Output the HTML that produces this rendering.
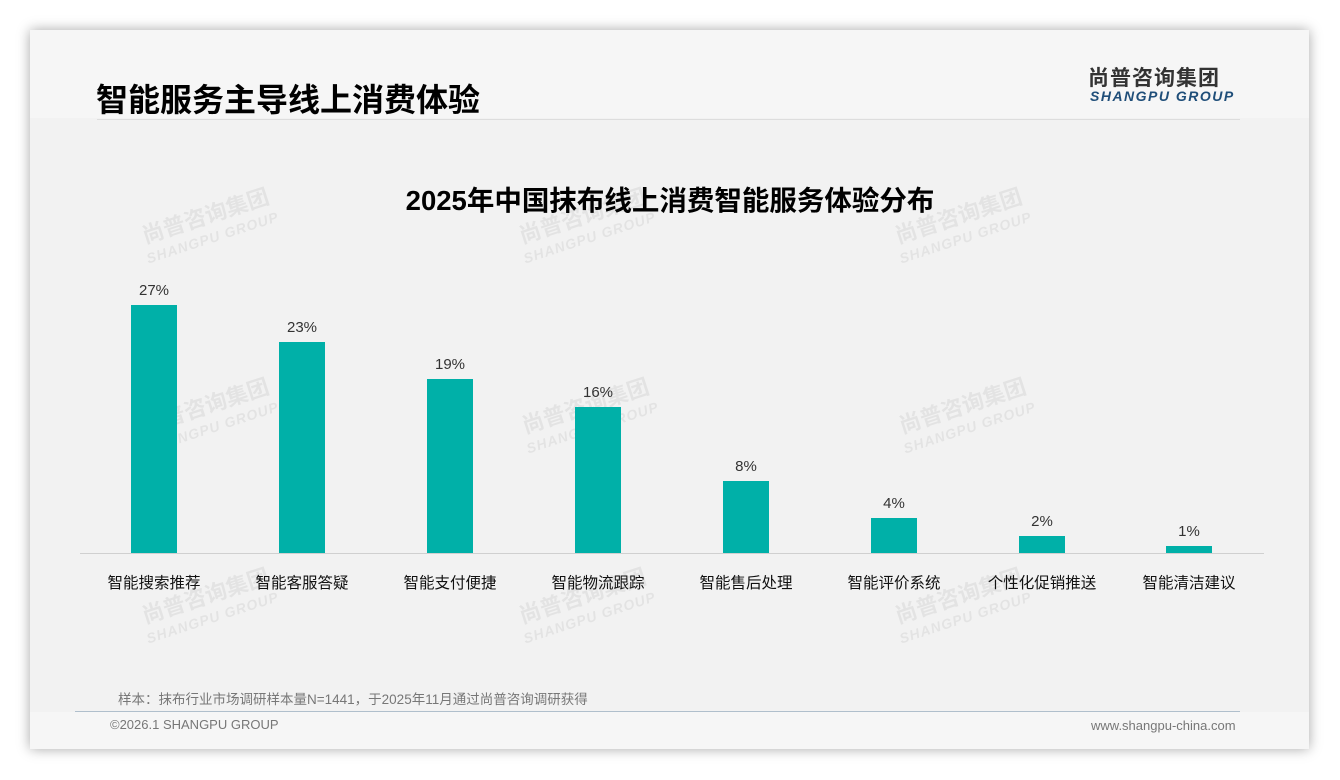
<!DOCTYPE html>
<html><head><meta charset="utf-8"><style>
body{margin:0;width:1340px;height:780px;background:#fff;position:relative;overflow:hidden;font-family:"Liberation Sans","Noto Sans CJK SC",sans-serif}
.card{position:absolute;left:30px;top:30px;width:1279px;height:719px;background:#f6f6f6;box-shadow:0 0 12px rgba(0,0,0,.35)}
.a{position:absolute}
.wm{position:absolute;color:rgba(0,0,0,.06);font-weight:bold;transform:rotate(-18deg);font-size:22px;line-height:22px;text-align:center}
.wm span{display:block;font-size:14px;font-style:italic;letter-spacing:1px}
.bar{position:absolute;width:46px;background:#00b0a8}
.v{position:absolute;width:80px;text-align:center;font-size:15px;color:#333}
.l{position:absolute;width:148px;text-align:center;font-size:15.5px;color:#111;top:571px}
</style></head><body>
<div class="card"></div>
<div class="a" style="left:30px;top:118px;width:1279px;height:594px;background:#f2f2f2"></div>
<div class="a" style="left:96px;top:75px;font-size:32px;font-weight:bold;color:#000">智能服务主导线上消费体验</div>
<div class="a" style="left:97px;top:119px;width:1143px;height:1px;background:#ddd"></div>
<div class="a" style="left:1088px;top:62px;font-size:21px;font-weight:bold;color:#333;letter-spacing:1px">尚普咨询集团</div>
<div class="a" style="left:1090px;top:88px;font-size:14px;font-weight:bold;font-style:italic;color:#1f4e79;letter-spacing:1.5px">SHANGPU GROUP</div>
<div class="a" style="left:0;width:1340px;top:178px;text-align:center;font-size:27.5px;font-weight:bold;color:#000">2025年中国抹布线上消费智能服务体验分布</div>
<div class="wm" style="left:140px;top:205px">尚普咨询集团<span>SHANGPU GROUP</span></div>
<div class="wm" style="left:517px;top:205px">尚普咨询集团<span>SHANGPU GROUP</span></div>
<div class="wm" style="left:893px;top:205px">尚普咨询集团<span>SHANGPU GROUP</span></div>
<div class="wm" style="left:140px;top:395px">尚普咨询集团<span>SHANGPU GROUP</span></div>
<div class="wm" style="left:520px;top:395px">尚普咨询集团<span>SHANGPU GROUP</span></div>
<div class="wm" style="left:897px;top:395px">尚普咨询集团<span>SHANGPU GROUP</span></div>
<div class="wm" style="left:140px;top:585px">尚普咨询集团<span>SHANGPU GROUP</span></div>
<div class="wm" style="left:517px;top:585px">尚普咨询集团<span>SHANGPU GROUP</span></div>
<div class="wm" style="left:893px;top:585px">尚普咨询集团<span>SHANGPU GROUP</span></div>
<div class="a" style="left:80px;top:553px;width:1184px;height:1px;background:#d0d0d0"></div>
<div class="bar" style="left:131px;top:305px;height:248px"></div><div class="v" style="left:114px;top:282px">27%</div><div class="l" style="left:80px">智能搜索推荐</div>
<div class="bar" style="left:279px;top:342px;height:211px"></div><div class="v" style="left:262px;top:319px">23%</div><div class="l" style="left:228px">智能客服答疑</div>
<div class="bar" style="left:427px;top:379px;height:174px"></div><div class="v" style="left:410px;top:356px">19%</div><div class="l" style="left:376px">智能支付便捷</div>
<div class="bar" style="left:575px;top:407px;height:146px"></div><div class="v" style="left:558px;top:384px">16%</div><div class="l" style="left:524px">智能物流跟踪</div>
<div class="bar" style="left:723px;top:481px;height:72px"></div><div class="v" style="left:706px;top:458px">8%</div><div class="l" style="left:672px">智能售后处理</div>
<div class="bar" style="left:871px;top:518px;height:35px"></div><div class="v" style="left:854px;top:495px">4%</div><div class="l" style="left:820px">智能评价系统</div>
<div class="bar" style="left:1019px;top:536px;height:17px"></div><div class="v" style="left:1002px;top:513px">2%</div><div class="l" style="left:968px">个性化促销推送</div>
<div class="bar" style="left:1166px;top:546px;height:7px"></div><div class="v" style="left:1149px;top:523px">1%</div><div class="l" style="left:1115px">智能清洁建议</div>
<div class="a" style="left:118px;top:688px;font-size:13.5px;color:#777">样本：抹布行业市场调研样本量N=1441，于2025年11月通过尚普咨询调研获得</div>
<div class="a" style="left:75px;top:711px;width:1165px;height:1px;background:#b0bfcc"></div>
<div class="a" style="left:110px;top:717px;font-size:13px;color:#777">©2026.1 SHANGPU GROUP</div>
<div class="a" style="left:1091px;top:718px;font-size:13px;color:#777">www.shangpu-china.com</div>
</body></html>
